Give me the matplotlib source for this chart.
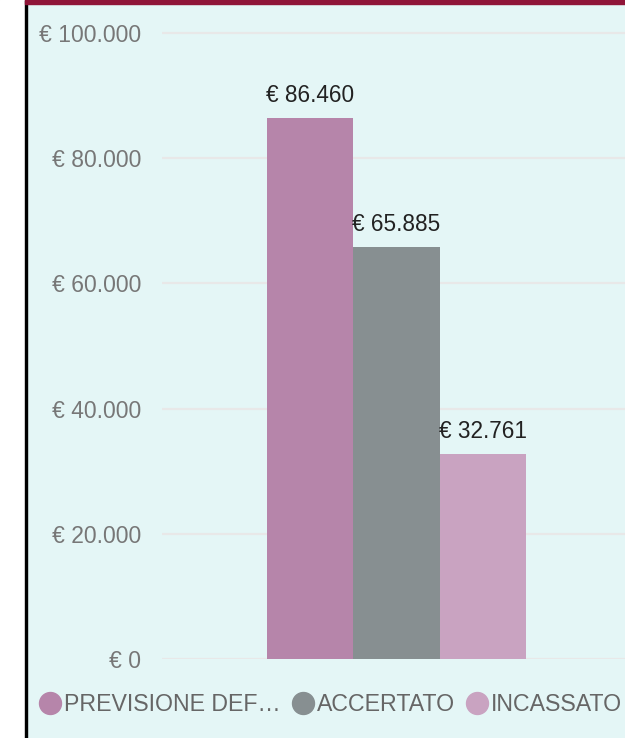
import matplotlib.pyplot as plt
from matplotlib.patches import Rectangle
from matplotlib.lines import Line2D

# data
labels = ['PREVISIONE DEF…', 'ACCERTATO', 'INCASSATO']
values = [86460, 65885, 32761]
colors = ['#b685aa', '#878f91', '#c9a3c1']
yticks = [0, 20000, 40000, 60000, 80000, 100000]

def euro(v):
    return '€ ' + f'{v:,.0f}'.replace(',', '.')

plt.rcParams['font.family'] = ['Liberation Sans', 'DejaVu Sans']

W, H = 625, 738
fig = plt.figure(figsize=(W / 100, H / 100), dpi=100)
fig.patch.set_facecolor('#e4f6f6')

# frame: white margin on the left, black border, dark red top strip
fig.add_artist(Rectangle((0, 0), 25 / W, 1, transform=fig.transFigure, color='white', zorder=0))
fig.add_artist(Rectangle((25 / W, 0), 2.5 / W, 1, transform=fig.transFigure, color='black', zorder=0))
fig.add_artist(Rectangle((25 / W, 1 - 4 / H), 1, 4 / H, transform=fig.transFigure, color='#8f1538', zorder=0))

# axes placement (pixels)
px_per_unit = (659 - 33) / 100000
ytop = 102000
ax_left, ax_right = 162, 625
ax_bottom = 659
ax_top = 659 - ytop * px_per_unit
ax = fig.add_axes([ax_left / W, 1 - ax_bottom / H, (ax_right - ax_left) / W, (ax_bottom - ax_top) / H])
ax.set_facecolor('none')

x = list(range(len(values)))
ax.bar(x, values, width=1.0, color=colors, zorder=3)
for xi, v in zip(x, values):
    ax.annotate(euro(v), (xi, v), xytext=(0, 11.5), textcoords='offset points',
                ha='center', va='baseline', fontsize=16.3, color='#222222', zorder=4)

bar_px = 86.5
ax.set_xlim(-0.5 - (267 - ax_left) / bar_px, 2.5 + (ax_right - 526) / bar_px)
ax.set_ylim(0, ytop)
ax.set_yticks(yticks)
ax.set_yticklabels([euro(t) for t in yticks])
ax.set_xticks([])
ax.tick_params(axis='y', length=0, pad=15, labelsize=16.5, labelcolor='#777777')
ax.grid(axis='y', color='#e8e8e8', linewidth=1.6, zorder=1)
for s in ax.spines.values():
    s.set_visible(False)

# legend
handles = [Line2D([], [], linestyle='none', marker='o', markersize=15.8,
                  markerfacecolor=c, markeredgecolor=c) for c in colors]
fig.legend(handles, labels, loc='center left', bbox_to_anchor=(39 / W, 1 - 704.5 / H),
           ncol=3, frameon=False, handlelength=0.95, handletextpad=0.13,
           columnspacing=0.47, borderpad=0, borderaxespad=0, fontsize=16.7,
           labelcolor='#666666')

plt.savefig('out.png', dpi=100)
